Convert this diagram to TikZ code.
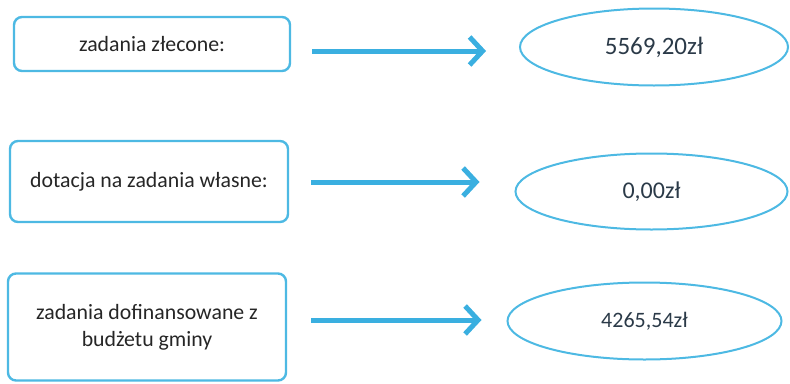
\documentclass[tikz,border=0pt]{standalone}
\usepackage{fontspec}
\setmainfont{Carlito}
\usetikzlibrary{shapes.geometric,arrows.meta}
\definecolor{lblue}{HTML}{4DB9E3}
\definecolor{ablue}{HTML}{3AAFE0}
\definecolor{txt}{HTML}{262626}
\definecolor{numtxt}{HTML}{2B3A48}
\begin{document}
\begin{tikzpicture}[x=1pt,y=-1pt,
  labelbox/.style={draw=lblue,line width=2.4pt,rounded corners=8pt,fill=white,
    text=txt,align=center,inner sep=0pt,
    font=\fontsize{21.8}{27}\selectfont},
  valell/.style={ellipse,draw=lblue,line width=2pt,text=numtxt,inner sep=0pt},
  arr/.style={draw=ablue,line width=5pt,
    -{Straight Barb[length=13pt,width=28pt,line width=5pt]}}]
\useasboundingbox (0,0) rectangle (790,383);
\node[labelbox,minimum width=276pt,minimum height=54pt] (b1) at (152,44) {zadania złecone:};
\node[labelbox,minimum width=278pt,minimum height=81pt] (b2) at (149,181.5) {dotacja na zadania własne:};
\node[labelbox,minimum width=278pt,minimum height=107pt] (b3) at (147,327) {zadania dofinansowane z\\budżetu gminy};
\node[valell,minimum width=268pt,minimum height=77pt,font=\fontsize{25}{30}\selectfont] (e1) at (654,47) {5569,20zł};
\node[valell,minimum width=272pt,minimum height=76pt,font=\fontsize{24}{29}\selectfont] (e2) at (651.5,191.5) {0,00zł};
\node[valell,minimum width=274pt,minimum height=77pt,font=\fontsize{22}{27}\selectfont] (e3) at (644.5,321) {4265,54zł};
\draw[arr] ([shift={(21,7)}]b1.east) -- ([shift={(-33,4)}]e1.west);
\draw[arr] ([shift={(22,0.5)}]b2.east) -- ([shift={(-35,-9.5)}]e2.west);
\draw[arr] ([shift={(24,-7)}]b3.east) -- ([shift={(-25,-1)}]e3.west);
\end{tikzpicture}
\end{document}
